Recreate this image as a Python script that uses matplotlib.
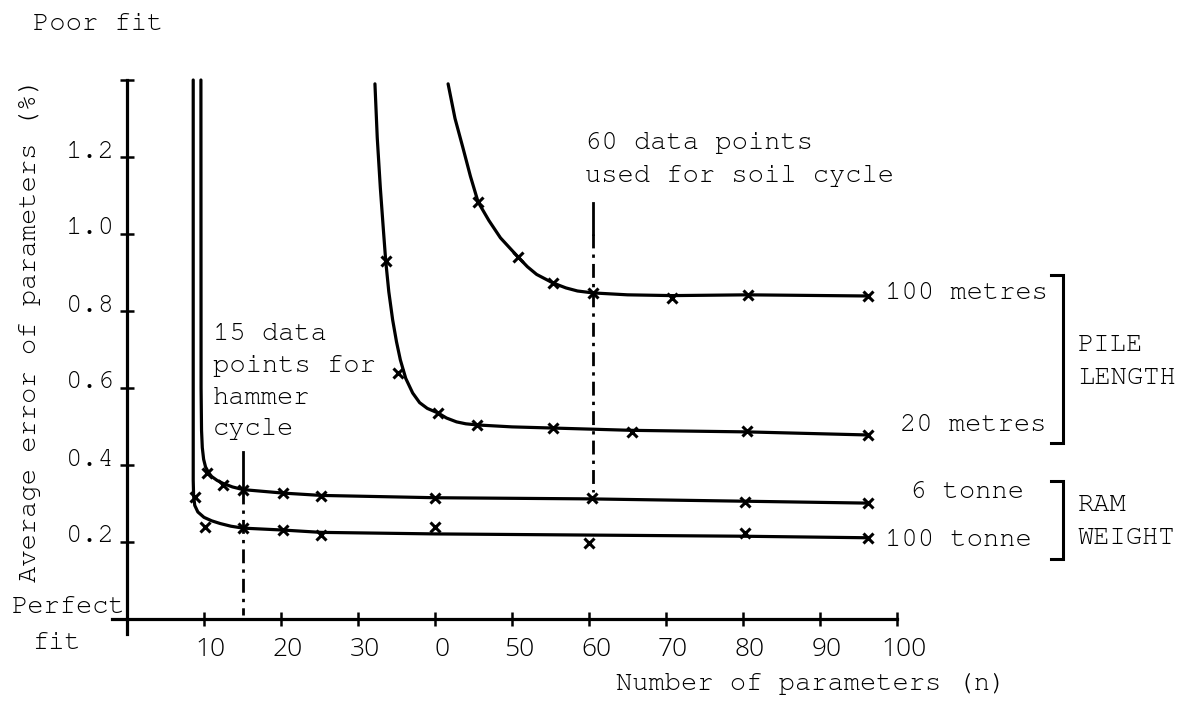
import matplotlib
matplotlib.use("Agg")
import matplotlib.pyplot as plt
from matplotlib.lines import Line2D
import matplotlib.transforms as mtransforms
from matplotlib import font_manager as fm

W, H, DPI = 1185, 707, 100

# ---------------- data ----------------
x_ticks = [10, 20, 30, 40, 50, 60, 70, 80, 90, 100]
x_tick_labels = ["10", "20", "30", "0", "50", "60", "70", "80", "90", "100"]
y_ticks = [0.2, 0.4, 0.6, 0.8, 1.0, 1.2, 1.4]
y_tick_labels = ["0.2", "0.4", "0.6", "0.8", "1.0", "1.2", ""]

# RAM WEIGHT 100 tonne (traced line + plotted points)
ram100_x = [8.6, 8.6, 8.65, 8.8, 9.2, 10.0, 11.0, 12.1, 13.5, 15.1, 20.3, 25.2, 40, 60, 80, 96.2]
ram100_y = [1.40, 0.36, 0.32, 0.295, 0.278, 0.264, 0.255, 0.248, 0.241, 0.236, 0.231, 0.225, 0.221, 0.218, 0.215, 0.211]
ram100_mx = [8.8, 10.1, 15.1, 20.3, 25.2, 40.0, 60.0, 80.3, 96.2]
ram100_my = [0.317, 0.24, 0.236, 0.231, 0.218, 0.24, 0.197, 0.223, 0.21]

# RAM WEIGHT 6 tonne
ram6_x = [9.6, 9.62, 9.68, 9.78, 9.95, 10.2, 10.6, 11.0, 11.7, 12.5, 13.7, 15.1, 20.3, 25.2, 40, 60, 80, 96.2]
ram6_y = [1.40, 0.60, 0.49, 0.445, 0.415, 0.395, 0.38, 0.37, 0.36, 0.352, 0.343, 0.336, 0.327, 0.321, 0.315, 0.312, 0.306, 0.301]
ram6_mx = [10.4, 12.5, 15.1, 20.3, 25.2, 40.0, 60.4, 80.3, 96.2]
ram6_my = [0.379, 0.348, 0.335, 0.327, 0.319, 0.314, 0.314, 0.304, 0.301]

# PILE LENGTH 20 metres
pile20_x = [32.2, 32.5, 32.9, 33.3, 33.6, 34.0, 34.5, 35.0, 35.5, 36.2, 37.1, 38.0, 39.0, 40.4,
            41.5, 42.8, 44.0, 45.5, 50, 55.3, 65.6, 80.5, 96.2]
pile20_y = [1.39, 1.25, 1.12, 1.01, 0.93, 0.85, 0.777, 0.72, 0.673, 0.625, 0.587, 0.562, 0.547, 0.535,
            0.522, 0.512, 0.507, 0.504, 0.499, 0.496, 0.490, 0.486, 0.478]
pile20_mx = [33.6, 35.2, 40.4, 45.5, 55.3, 65.6, 80.5, 96.2]
pile20_my = [0.93, 0.64, 0.535, 0.504, 0.496, 0.486, 0.488, 0.478]

# PILE LENGTH 100 metres
pile100_x = [41.7, 42.6, 43.6, 44.6, 45.6, 47.0, 48.5, 50.8, 52.0, 53.2, 55.3, 57.0, 58.5, 60.5, 65.0, 70.8, 80.6, 96.2]
pile100_y = [1.39, 1.30, 1.226, 1.15, 1.083, 1.035, 0.99, 0.94, 0.915, 0.895, 0.873, 0.860, 0.852, 0.847, 0.842, 0.840, 0.842, 0.839]
pile100_mx = [45.6, 50.8, 55.3, 60.5, 70.8, 80.6, 96.2]
pile100_my = [1.083, 0.94, 0.873, 0.847, 0.834, 0.842, 0.839]

# vertical guide lines (x position, solid top, dashed range)
hammer_x, hammer_solid, hammer_dash = 15.1, (0.434, 0.335), (0.335, 0.01)
soil_x, soil_solid, soil_dash = 60.5, (1.08, 1.0), (1.0, 0.33)

# ---------------- fonts ----------------
_avail = {f.name for f in fm.fontManager.ttflist}
_cands = ["Courier New", "Nimbus Mono PS", "Nimbus Mono L", "FreeMono", "Courier", "Liberation Mono", "DejaVu Sans Mono"]
MONO = [c for c in _cands if c in _avail] + ["DejaVu Sans"]
MONO = MONO[:2]
DIGITS = [c for c in ["Open Sans", "Noto Sans", "DejaVu Sans"] if c in _avail][:1] + ["DejaVu Sans"]
FS = 19.5

fig = plt.figure(figsize=(W / DPI, H / DPI), dpi=DPI)
fig.patch.set_facecolor("white")

x0px, x100px = 127, 897
y0px, y14px = 619, 80
sx = (x100px - x0px) / 100.0
sy = (y0px - y14px) / 1.4
xlim = (-2.0, 100.5)
ylim = (-0.04, 1.42)
left_px = x0px + xlim[0] * sx
right_px = x0px + xlim[1] * sx
bot_px = y0px - ylim[0] * sy
top_px = y0px - ylim[1] * sy
ax = fig.add_axes([left_px / W, 1 - bot_px / H, (right_px - left_px) / W, (bot_px - top_px) / H])
ax.set_xlim(*xlim)
ax.set_ylim(*ylim)
ax.patch.set_alpha(0)

for s in ("top", "right"):
    ax.spines[s].set_visible(False)
ax.spines["left"].set_position(("data", 0))
ax.spines["bottom"].set_position(("data", 0))
ax.spines["left"].set_bounds(-0.04, 1.4)
ax.spines["bottom"].set_bounds(-2, 100)
for s in ("left", "bottom"):
    ax.spines[s].set_linewidth(2.3)
    ax.spines[s].set_color("black")

ax.set_xticks(x_ticks)
ax.set_xticklabels(x_tick_labels, fontfamily=DIGITS, fontweight="light", fontsize=19)
ax.set_yticks(y_ticks)
ax.set_yticklabels(y_tick_labels, fontfamily=MONO, fontsize=FS)
ax.tick_params(axis="x", direction="inout", length=10, width=1.8, pad=8, colors="black")
ax.tick_params(axis="y", direction="inout", length=10, width=1.8, pad=4, colors="black")
offx = mtransforms.ScaledTranslation(7 / DPI, 0, fig.dpi_scale_trans)
for lab in ax.get_xticklabels():
    lab.set_transform(lab.get_transform() + offx)
offy = mtransforms.ScaledTranslation(0, 8 / DPI, fig.dpi_scale_trans)
for lab in ax.get_yticklabels():
    lab.set_transform(lab.get_transform() + offy)

lw = 2.3
mk = dict(marker="x", markersize=6.5, markeredgewidth=2.2, color="black", linestyle="none", zorder=5)
for cx, cy, mx, my in [
    (ram100_x, ram100_y, ram100_mx, ram100_my),
    (ram6_x, ram6_y, ram6_mx, ram6_my),
    (pile20_x, pile20_y, pile20_mx, pile20_my),
    (pile100_x, pile100_y, pile100_mx, pile100_my),
]:
    ax.plot(cx, cy, color="black", linewidth=lw, solid_joinstyle="round", solid_capstyle="round", clip_on=False)
    ax.plot(mx, my, clip_on=False, **mk)

for vx, solid, dash in [(hammer_x, hammer_solid, hammer_dash), (soil_x, soil_solid, soil_dash)]:
    ax.plot([vx, vx], list(solid), color="black", linewidth=2.0)
    ax.plot([vx, vx], list(dash), color="black", linewidth=2.0, linestyle=(0, (5, 2.2, 1.2, 2.2)))


# ---------------- text (pixel positions of the reference) ----------------
def ftext(px, py, s, ha="left", va="center", **kw):
    kw.setdefault("fontfamily", MONO)
    kw.setdefault("fontsize", FS)
    fig.text(px / W, 1 - py / H, s, ha=ha, va=va, color="black", **kw)


ftext(33, 24, "Poor fit")
ftext(12, 607, "Perfect")
ftext(32, 643, "fit")
ftext(30, 330, "Average error of parameters (%)", ha="center", rotation=90)
ftext(616, 684, "Number of parameters (n)")

ftext(213, 334, "15 data")
ftext(213, 366, "points for")
ftext(213, 398, "hammer")
ftext(213, 429, "cycle")

ftext(585, 143, "60 data points")
ftext(585, 176, "used for soil cycle")

ftext(885, 293, "100 metres")
ftext(900, 425, "20 metres")
ftext(910, 492, "6 tonne")
ftext(885, 540, "100 tonne")

ftext(1078, 345, "PILE")
ftext(1078, 378, "LENGTH")
ftext(1078, 505, "RAM")
ftext(1078, 538, "WEIGHT")


def fline(xs, ys):
    fig.add_artist(Line2D([x / W for x in xs], [1 - y / H for y in ys], color="black",
                          linewidth=2.2, solid_joinstyle="miter"))


fline([1051, 1063, 1063, 1051], [275, 275, 443, 443])
fline([1051, 1063, 1063, 1051], [481, 481, 559, 559])

fig.savefig("out.png", dpi=DPI, facecolor="white")
